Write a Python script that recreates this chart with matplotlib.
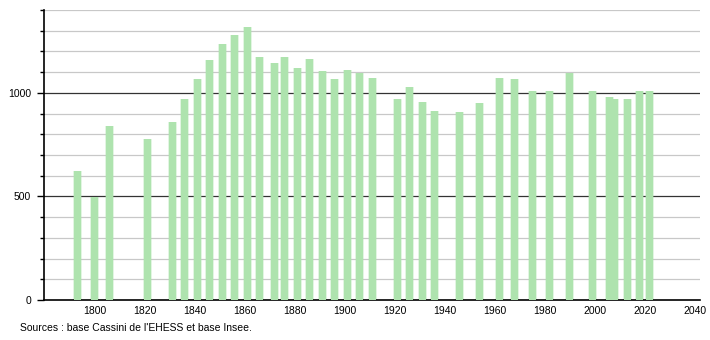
import numpy as np
import matplotlib
matplotlib.use("Agg")
import matplotlib.pyplot as plt

# années de recensement et population
annees = [1793, 1800, 1806, 1821, 1831, 1836, 1841, 1846, 1851, 1856, 1861, 1866,
          1872, 1876, 1881, 1886, 1891, 1896, 1901, 1906, 1911, 1921, 1926, 1931,
          1936, 1946, 1954, 1962, 1968, 1975, 1982, 1990, 1999, 2006, 2008, 2013,
          2018, 2022]
population = [621, 497, 842, 777, 861, 971, 1069, 1161, 1234, 1279, 1319, 1171,
              1142, 1171, 1118, 1165, 1106, 1069, 1108, 1097, 1074, 969, 1029, 958,
              914, 908, 952, 1074, 1069, 1011, 1011, 1098, 1011, 982, 972, 969,
              1011, 1008]
x_ticks = list(range(1800, 2041, 20))
y_labels = [0, 500, 1000]

plt.rcParams['font.family'] = ['Liberation Sans Narrow', 'Liberation Sans', 'DejaVu Sans']

fig = plt.figure(figsize=(7.1, 3.4), dpi=100)
ax = fig.add_axes([43.5 / 710, 40 / 340, (700 - 43.5) / 710, 290 / 340])

# grille
for v in range(100, 1401, 100):
    if v % 500 == 0:
        ax.axhline(v, color='#333333', lw=0.9, zorder=0)
    else:
        ax.axhline(v, color='#c8c8c8', lw=0.9, zorder=0)

# barres avec bords flous
ax.bar(annees, population, width=3.6, color='#aee3ae', alpha=0.35, zorder=2)
ax.bar(annees, population, width=2.8, color='#aee3ae', zorder=3)

ax.set_xlim(1779.5, 2042)
ax.set_ylim(0, 1400)
ax.set_xticks(x_ticks)
ax.set_xticklabels([str(t) for t in x_ticks], fontsize=7.5)
ax.set_yticks(y_labels)
ax.set_yticklabels([str(t) for t in y_labels], fontsize=7.5)
ax.set_yticks(range(100, 1401, 100), minor=True)
ax.tick_params(axis='x', length=0, pad=4)
ax.tick_params(axis='y', which='major', length=5, width=1, pad=4)
ax.tick_params(axis='y', which='minor', length=3, width=1)

for s in ['top', 'right']:
    ax.spines[s].set_visible(False)
ax.spines['left'].set_linewidth(1.2)
ax.spines['bottom'].set_linewidth(1.2)

fig.text(20 / 710, 1 - 328 / 340, "Sources : base Cassini de l'EHESS et base Insee.",
         fontsize=7.5, va='center', ha='left')

fig.savefig("out.png", dpi=100)
plt.close(fig)
